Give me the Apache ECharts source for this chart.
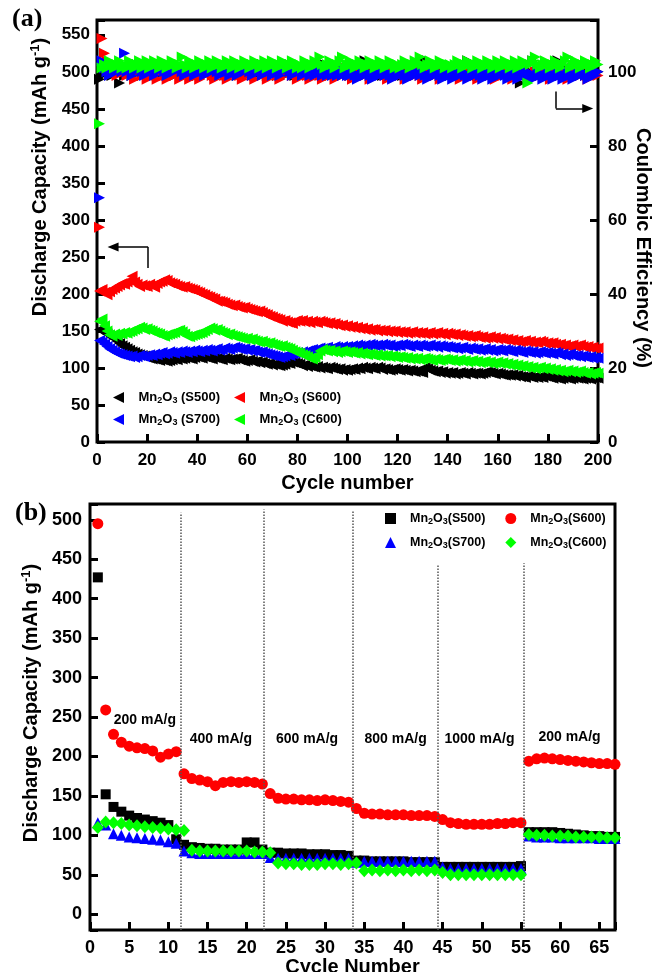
<!DOCTYPE html>
<html>
<head>
<meta charset="utf-8">
<script src="https://cdn.jsdelivr.net/npm/echarts@6/dist/echarts.min.js"></script>
<style>
html, body { margin: 0; padding: 0; background: #fff; }
#chart { width: 654px; height: 972px; }
</style>
</head>
<body>
<div id="chart"></div>
<script>
// (a) discharge capacity at 200 mA/g, cycles 1-200 (mAh/g)
const capS500 = [
  152,150,148,146,144,141,139,136,133,130,128,126,124,122,121,119,118,117,116,114,
  113,112,112,111,110,111,110,109,110,111,112,111,113,112,113,114,113,112,114,115,
  114,113,115,114,113,112,114,113,112,111,113,112,111,112,112,113,111,110,109,110,
  111,109,108,109,107,108,106,105,106,104,105,104,103,104,105,107,106,108,107,106,
  105,103,104,102,103,102,101,102,100,101,100,99,101,100,99,98,99,97,98,97,
  98,99,98,100,99,101,100,99,101,100,99,101,100,98,99,98,97,98,99,98,
  97,98,97,96,97,96,95,96,95,94,101,99,97,96,95,96,94,95,93,94,
  93,94,92,93,94,93,92,94,93,92,93,93,92,93,94,95,94,93,92,93,
  92,91,90,91,90,91,89,90,88,88,87,89,88,87,88,87,88,87,89,88,
  87,86,87,86,85,86,87,86,85,86,87,86,86,85,86,86,85,86,87,86
];
const capS600 = [
  204,206,202,199,203,206,208,210,212,214,213,216,218,224,216,213,210,212,211,210,
  213,211,209,214,216,217,219,218,215,214,213,211,210,209,210,208,207,206,205,203,
  202,200,199,197,196,194,193,190,190,189,188,186,185,184,185,183,182,181,182,180,
  179,178,177,176,177,175,173,172,170,169,167,166,165,163,164,162,161,160,163,164,
  163,164,162,163,161,163,162,161,163,162,161,160,161,159,160,158,157,158,156,157,
  155,156,154,155,153,154,152,153,151,152,152,150,151,150,151,149,150,149,150,148,
  149,148,149,147,148,149,147,148,147,148,146,147,148,146,147,148,146,147,145,147,
  146,145,146,144,145,144,143,144,142,143,144,142,141,142,140,141,142,140,141,139,
  140,139,138,139,137,138,136,137,135,136,137,135,136,134,135,134,136,135,133,134,
  133,134,132,131,132,130,131,129,130,131,129,130,131,129,128,129,127,128,126,127
];
const capS700 = [
  137,135,132,129,126,124,122,120,119,118,117,116,115,116,114,115,117,116,115,117,
  118,117,119,118,120,121,119,120,122,121,120,122,121,123,122,121,123,122,124,123,
  122,124,123,125,124,123,125,126,124,125,127,126,125,127,128,127,126,125,126,124,
  125,123,124,122,121,122,120,119,118,117,116,115,114,115,116,118,117,119,120,121,
  120,122,121,123,124,125,124,126,127,126,127,128,126,127,129,128,127,129,128,129,
  128,130,129,131,130,129,131,130,132,131,130,131,130,132,131,130,131,129,130,131,
  130,132,131,130,129,131,130,129,131,130,129,130,131,129,130,128,130,129,128,129,
  128,127,128,126,127,128,126,125,127,126,125,126,124,125,126,124,125,123,124,125,
  124,123,125,124,123,122,124,123,122,121,123,122,121,122,120,121,122,121,120,121,
  120,119,121,120,118,119,117,118,119,117,116,117,115,116,115,114,115,113,114,113
];
const capC600 = [
  163,166,157,150,145,143,146,144,147,146,148,147,149,150,152,153,155,154,152,153,
  151,150,148,147,146,144,143,145,146,147,148,150,151,149,146,143,142,144,145,146,
  147,148,150,152,154,153,151,152,150,148,147,145,146,144,143,142,141,140,139,140,
  138,139,137,136,135,136,134,133,134,132,131,130,129,130,128,127,126,124,122,121,
  120,118,117,115,113,112,114,118,123,125,124,123,124,122,123,121,122,123,122,121,
  122,121,120,121,119,120,119,118,119,118,117,118,116,117,116,117,115,116,115,114,
  115,114,113,114,112,113,112,113,111,112,113,112,111,110,112,111,110,111,112,111,
  110,111,109,110,111,109,110,108,109,110,108,109,107,108,109,107,108,106,107,108,
  106,107,105,106,104,105,103,104,102,103,101,102,100,101,99,100,101,99,100,98,
  99,97,98,96,97,95,96,97,95,96,94,95,96,94,93,94,92,93,94,93
];

// (a) coulombic efficiency (%), cycles 1-200
const ceS500 = [
  98,99,100,101,100,99,100,101,97,100,99,101,100,99,100,102,100,99,101,100,
  99,100,101,99,100,102,100,99,101,100,99,100,101,100,99,101,100,102,100,99,
  100,101,99,100,101,100,99,100,102,101,100,99,100,101,100,99,101,100,99,100,
  101,100,99,100,101,102,100,99,100,101,100,99,101,100,99,100,102,100,99,101,
  100,99,100,101,100,99,100,101,100,99,102,100,99,100,101,100,99,100,101,100,
  99,100,101,100,99,100,103,101,100,99,100,101,100,99,100,101,100,99,100,101,
  100,99,100,101,100,99,100,101,100,103,101,103,99,100,101,100,99,100,101,100,
  99,100,101,100,99,100,101,103,99,101,100,99,100,101,100,99,100,100,101,100,
  99,100,101,100,99,100,101,100,97,101,100,99,100,103,100,99,100,101,100,99,
  100,101,100,103,100,101,100,99,100,101,100,99,100,101,100,99,100,101,100,100
];
const ceS600 = [
  58,109,105,103,102,101,100,99,100,101,100,99,101,100,98,100,101,99,100,98,
  101,99,100,98,101,100,99,98,100,101,99,100,98,99,101,100,98,99,100,99,
  98,100,99,101,100,99,98,100,102,100,99,98,100,99,101,100,99,98,100,99,
  100,99,98,100,101,99,100,98,99,100,101,99,98,100,99,100,101,99,100,98,
  99,100,101,99,98,100,99,100,99,98,100,101,99,100,98,99,100,99,101,100,
  99,98,100,99,100,101,99,100,98,99,100,99,101,100,99,98,100,99,100,101,
  99,100,98,99,100,101,99,100,99,98,100,99,100,101,99,100,98,99,100,99,
  100,101,99,100,98,99,100,101,99,100,99,98,100,99,101,100,99,100,98,99,
  100,99,101,100,99,98,100,99,100,101,99,100,98,99,100,101,99,100,99,100,
  98,99,100,101,99,100,99,98,100,99,100,101,99,100,99,98,100,99,100,99
];
const ceS700 = [
  66,103,101,100,99,100,101,100,101,100,105,100,101,99,100,101,102,100,99,101,
  100,101,99,100,102,101,100,99,100,101,100,102,101,100,99,100,101,100,99,100,
  101,100,99,100,101,100,102,100,99,100,101,100,99,101,100,99,100,101,100,102,
  100,99,100,101,100,99,100,101,100,99,101,100,99,100,101,102,100,99,100,101,
  100,99,100,101,99,100,99,100,101,99,100,99,100,99,100,99,101,99,100,99,
  99,100,99,98,99,100,99,100,99,98,99,100,99,100,99,100,99,98,99,100,
  99,100,99,98,99,100,99,100,99,100,99,98,99,100,99,100,99,98,99,100,
  99,98,99,100,99,100,99,98,99,100,99,100,99,98,99,100,99,98,99,100,
  99,100,99,98,99,100,99,98,99,100,99,100,99,98,99,100,99,98,99,100,
  99,98,99,100,99,98,99,100,99,98,99,100,99,100,99,98,99,100,99,100
];
const ceC600 = [
  86,101,102,101,103,102,101,102,103,101,102,101,103,102,101,102,103,101,102,103,
  101,102,103,102,101,103,102,101,102,103,102,101,102,104,102,101,103,102,101,102,
  103,102,101,102,103,101,102,103,102,101,102,103,102,101,103,102,101,102,103,102,
  101,102,103,102,101,102,103,101,102,103,102,101,102,103,102,101,102,103,102,101,
  102,101,103,102,101,102,103,102,104,102,101,102,103,102,101,102,103,104,101,102,
  103,102,101,102,103,102,101,102,103,102,101,102,103,102,101,102,103,102,101,102,
  101,102,103,102,101,102,103,102,104,102,101,102,103,102,101,102,103,102,101,102,
  102,101,102,103,102,101,102,103,102,101,102,103,102,101,102,103,102,101,102,103,
  101,102,103,102,101,102,103,101,102,103,102,97,102,103,104,102,101,102,103,102,
  101,102,103,102,101,102,103,104,101,102,103,102,101,102,103,102,101,102,103,102
];

// (b) rate capability, cycles 1-67 (mAh/g)
const rateS500 = [
  427,152,136,130,125,122,120,118,116,113,95,
  88,85,84,83,83,82,82,82,91,91,82,
  78,78,77,77,77,76,76,76,75,75,74,
  68,68,67,67,67,67,67,66,66,66,66,
  60,60,60,60,60,60,60,60,60,60,61,
  104,104,104,104,103,102,101,100,99,99,98,98
];
const rateS600 = [
  495,259,228,218,213,211,210,207,199,203,206,
  178,172,170,168,163,167,168,167,168,167,165,
  153,147,146,146,145,145,144,145,144,143,142,
  134,128,127,127,126,126,126,125,125,125,124,
  120,116,115,114,114,114,114,115,115,116,116,
  194,197,198,197,196,195,194,193,192,191,191,190
];
const rateS700 = [
  116,113,102,100,98,97,96,95,94,92,90,
  80,78,77,77,77,77,77,77,77,77,77,
  72,71,71,71,71,71,71,71,71,71,71,
  66,67,67,67,67,67,67,67,67,67,67,
  60,58,58,58,58,58,58,58,58,58,58,
  99,98,98,98,97,97,97,97,97,96,96,96
];
const rateC600 = [
  110,117,116,115,113,112,111,110,109,108,107,106,
  81,80,80,80,80,80,80,80,79,79,78,
  65,64,64,63,63,63,64,64,63,64,65,
  55,56,55,56,55,56,55,56,55,56,
  53,50,50,50,50,50,50,50,50,50,50,
  101,100,100,99,99,99,98,98,98,98,97,97
];

// current densities written between the dotted lines
const rateLabels = [
  ['200 mA/g', 7.0, 246], ['400 mA/g', 16.7, 222], ['600 mA/g', 27.7, 222],
  ['800 mA/g', 39.0, 222], ['1000 mA/g', 49.7, 222], ['200 mA/g', 61.2, 225]
];
const rateBreaks = [11.6, 22.2, 33.5, 44.4, 55.3];
const breakTops = [509, 513, 511, 442, 445];

const samples = ['S500', 'S600', 'S700', 'C600'];
const colors = ['#000000', '#ff0000', '#0000ff', '#00ff00'];

(function() {
    var chartDom = document.getElementById('chart');
    var myChart = echarts.init(chartDom);
    const FONT = 'Liberation Sans, Arial, sans-serif';
    const triLeft = 'path://M0,5 L10,0 L10,10 Z';
    const triRight = 'path://M10,5 L0,0 L0,10 Z';
    const rateSymbols = ['rect', 'circle', 'triangle', 'diamond'];
    const rateSizes = [10, 11, 11, [12, 13]];
    const capA = [capS500, capS600, capS700, capC600];
    const ceA = [ceS500, ceS600, ceS700, ceC600];
    const rateB = [rateS500, rateS600, rateS700, rateC600];
    const namesA = samples.map(s => 'Mn2O3 (' + s + ')');
    const namesB = samples.map(s => 'Mn2O3(' + s + ')');

    const pts = arr => arr.map((v, i) => [i + 1, v]);
    const every = step => v => (Math.abs(v % step) < 1e-6 ? String(v) : '');

    const tick = { inside: true, length: 8, lineStyle: { width: 3, color: '#000' } };
    const label = (step, margin, size) => ({
        margin: margin, fontSize: size, fontWeight: 'bold', color: '#000',
        fontFamily: FONT, formatter: every(step)
    });
    // padding shifts the rotated titles along their axis, as in the original
    const nameStyle = (pad) => ({
        fontSize: 20, fontWeight: 'bold', color: '#000', fontFamily: FONT,
        padding: pad || 0,
        rich: {
            t: { fontSize: 20, fontWeight: 'bold', color: '#000', fontFamily: FONT },
            sup: { fontSize: 13, fontWeight: 'bold', color: '#000', fontFamily: FONT, padding: [0, 0, 9, 0] }
        }
    });
    const capName = '{t|Discharge Capacity (mAh g}{sup|-1}{t|)}';
    const noLine = { show: false, onZero: false };

    const legendText = (size) => ({
        color: '#000', fontFamily: FONT, fontWeight: 'bold', fontSize: size,
        rich: {
            m: { fontSize: size, fontWeight: 'bold', color: '#000', fontFamily: FONT, padding: [0, 0, 0, 9] },
            a: { fontSize: size, fontWeight: 'bold', color: '#000', fontFamily: FONT },
            s: { fontSize: 9, fontWeight: 'bold', color: '#000', fontFamily: FONT, padding: [7, 0, 0, 0] }
        }
    });
    const legendFmt = name => '{m|Mn}{s|2}{a|O}{s|3}{a|' + name.slice(5) + '}';
    const legendBase = (data, left, top, gap, size, w, h) => ({
        data: data, left: left, top: top, padding: 0, itemGap: gap,
        itemWidth: w, itemHeight: h, selectedMode: false,
        textStyle: legendText(size), formatter: legendFmt
    });

    const series = [];
    samples.forEach((s, k) => {
        series.push({
            name: namesA[k], type: 'scatter', xAxisIndex: 0, yAxisIndex: 0,
            symbol: triLeft, symbolSize: 11, z: 2 + k,
            itemStyle: { color: colors[k], opacity: 1 },
            data: pts(capA[k])
        });
    });
    samples.forEach((s, k) => {
        series.push({
            name: namesA[k] + ' CE', type: 'scatter', xAxisIndex: 0, yAxisIndex: 1,
            symbol: triRight, symbolSize: 11, z: 2 + k,
            itemStyle: { color: colors[k], opacity: 1 },
            data: pts(ceA[k])
        });
    });
    samples.forEach((s, k) => {
        series.push({
            name: namesB[k], type: 'scatter', xAxisIndex: 1, yAxisIndex: 2,
            symbol: rateSymbols[k], symbolSize: rateSizes[k], z: 2 + k,
            itemStyle: { color: colors[k], opacity: 1 },
            data: pts(rateB[k])
        });
    });

    // arrows in (a): capacity -> left axis, efficiency -> right axis
    series[1].markLine = {
        silent: true, animation: false, symbol: ['none', 'none'], symbolSize: [9, 11],
        label: { show: false }, lineStyle: { color: '#000', width: 1.5, type: 'solid' },
        data: [
            [{ coord: [20.4, 235] }, { coord: [20.4, 263.5] }],
            [{ coord: [20.4, 263.5] }, { coord: [6.4, 263.5], symbol: 'triangle' }]
        ]
    };
    series[7].markLine = {
        silent: true, animation: false, symbol: ['none', 'none'], symbolSize: [9, 11],
        label: { show: false }, lineStyle: { color: '#000', width: 1.5, type: 'solid' },
        data: [
            [{ coord: [183.2, 94.7] }, { coord: [183.2, 90.1] }],
            [{ coord: [183.2, 90.1] }, { coord: [195.9, 90.1], symbol: 'triangle' }]
        ]
    };
    // dotted separators in (b)
    series[9].markLine = {
        silent: true, animation: false, symbol: ['none', 'none'],
        label: { show: false }, lineStyle: { color: '#555', width: 1.5, type: 'dotted' },
        data: rateBreaks.map((x, i) => [{ coord: [x, -20] }, { coord: [x, breakTops[i]] }])
    };
    series.push({
        name: 'rates', type: 'scatter', xAxisIndex: 1, yAxisIndex: 2,
        symbolSize: 1, itemStyle: { color: 'rgba(0,0,0,0)' }, silent: true, z: 10,
        label: {
            show: true, position: 'inside', color: '#000', opacity: 1, textBorderWidth: 0,
            fontFamily: FONT, fontWeight: 'bold', fontSize: 14, formatter: p => p.data[2]
        },
        data: rateLabels.map(r => [r[1], r[2], r[0]])
    });

    var option = {
        animation: false,
        backgroundColor: '#fff',
        graphic: [
            { type: 'text', left: 12, top: 6, style: { text: '(a)', font: 'bold 26px Liberation Serif', fill: '#000' } },
            { type: 'text', left: 15, top: 500, style: { text: '(b)', font: 'bold 26px Liberation Serif', fill: '#000' } }
        ],
        grid: [
            { left: 97, top: 20, width: 501, height: 422, show: true, borderColor: '#000', borderWidth: 3, outerBoundsMode: 'none' },
            { left: 90, top: 504, width: 525, height: 426, show: true, borderColor: '#000', borderWidth: 3, outerBoundsMode: 'none' }
        ],
        xAxis: [
            {
                gridIndex: 0, type: 'value', min: 0, max: 200, interval: 20,
                axisLine: noLine, axisTick: tick, splitLine: { show: false },
                axisLabel: label(20, 10, 17),
                name: 'Cycle number', nameLocation: 'middle', nameGap: 31,
                nameTextStyle: nameStyle()
            },
            {
                gridIndex: 1, type: 'value', min: 0, max: 67, interval: 5,
                axisLine: noLine, axisTick: tick, splitLine: { show: false },
                axisLabel: label(5, 9, 18),
                name: 'Cycle Number', nameLocation: 'middle', nameGap: 27,
                nameTextStyle: nameStyle()
            }
        ],
        yAxis: [
            {
                gridIndex: 0, type: 'value', position: 'left', min: 0, max: 570, interval: 50,
                axisLine: noLine, axisTick: tick, splitLine: { show: false },
                axisLabel: label(50, 7, 17),
                name: capName, nameLocation: 'middle', nameRotate: 90, nameGap: 46,
                nameTextStyle: nameStyle([0, 0, 0, 108])
            },
            {
                gridIndex: 0, type: 'value', position: 'right', min: 0, max: 114, interval: 20,
                axisLine: noLine, axisTick: tick, splitLine: { show: false },
                axisLabel: label(20, 10, 17),
                name: 'Coulombic Efficiency (%)', nameLocation: 'middle', nameRotate: -90,
                nameGap: 35, nameMoveOverlap: false,
                nameTextStyle: nameStyle([0, 0, 0, 34])
            },
            {
                gridIndex: 1, type: 'value', position: 'left', min: -20, max: 520, splitNumber: 11,
                axisLine: noLine, axisTick: tick, splitLine: { show: false },
                axisLabel: label(50, 8, 18),
                name: capName, nameLocation: 'middle', nameRotate: 90, nameGap: 42,
                nameTextStyle: nameStyle([0, 0, 0, 28])
            }
        ],
        legend: [
            legendBase([namesA[0], namesA[1]], 113, 391, 14, 13, 12, 11),
            legendBase([namesA[2], namesA[3]], 113, 413, 14, 13, 12, 11),
            legendBase([namesB[0], namesB[1]], 385, 512, 20, 12.5, 11, 11),
            legendBase([namesB[2], namesB[3]], 385, 536, 20, 12.5, 11, 11)
        ],
        series: series
    };

    myChart.setOption(option);
})();
</script>
</body>
</html>
